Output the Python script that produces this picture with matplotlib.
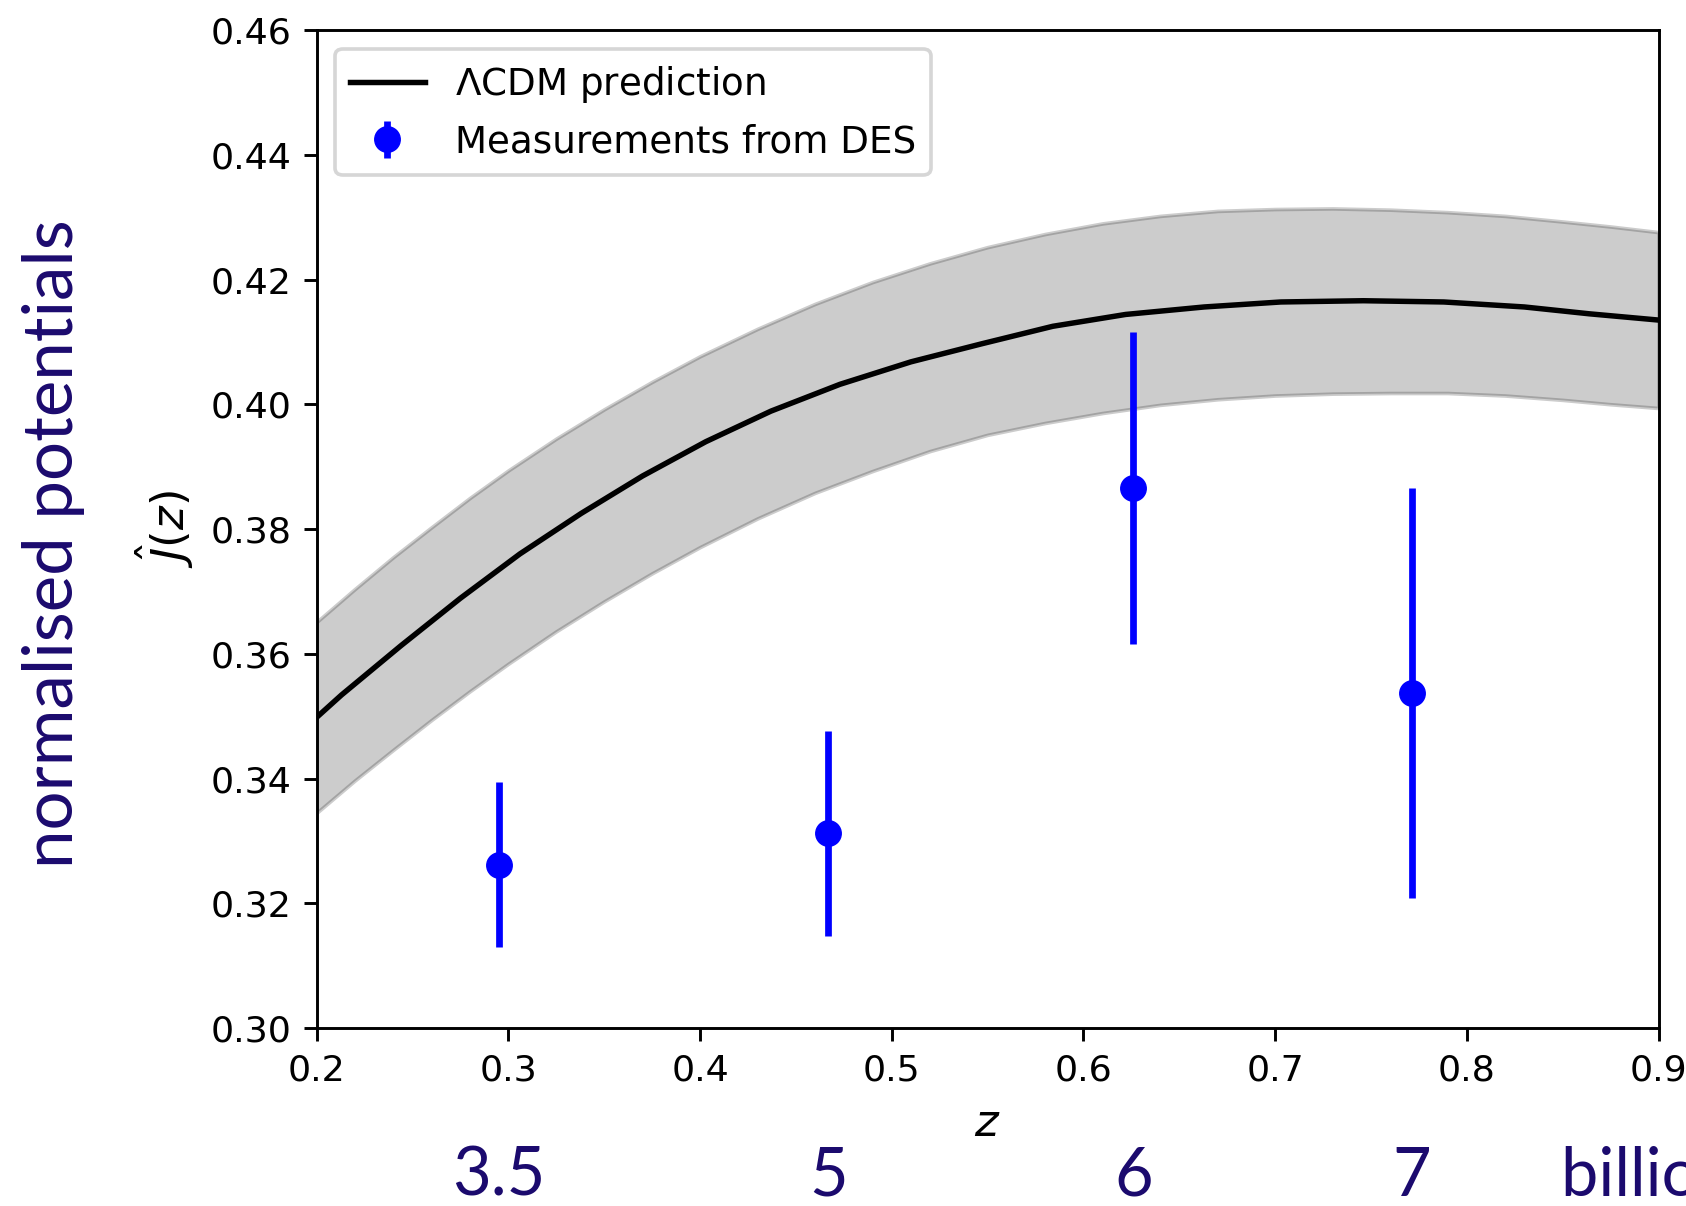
import numpy as np
import matplotlib
matplotlib.use("Agg")
import matplotlib.pyplot as plt
from matplotlib import transforms

# LCDM prediction for J(z) and its band
z_model = [0.200, 0.213, 0.244, 0.275, 0.306, 0.338, 0.370, 0.403, 0.437, 0.473, 0.510,
           0.547, 0.584, 0.622, 0.663, 0.703, 0.746, 0.788, 0.830, 0.864, 0.900]
j_model = [0.3498, 0.3534, 0.3613, 0.3689, 0.3760, 0.3825, 0.3885, 0.3940, 0.3989, 0.4032, 0.4068,
           0.4097, 0.4125, 0.4144, 0.4156, 0.4164, 0.4166, 0.4164, 0.4156, 0.4145, 0.4135]

# band edges (read on a finer grid, they look smooth)
z_band = [0.200, 0.220, 0.240, 0.260, 0.280, 0.300, 0.325, 0.350, 0.375, 0.400, 0.430,
          0.460, 0.490, 0.520, 0.550, 0.580, 0.610, 0.640, 0.670, 0.700, 0.730,
          0.760, 0.790, 0.820, 0.850, 0.875, 0.900]
j_upper = [0.3651, 0.3704, 0.3755, 0.3803, 0.3850, 0.3894, 0.3945, 0.3992, 0.4036, 0.4077, 0.4121,
           0.4161, 0.4196, 0.4226, 0.4252, 0.4273, 0.4290, 0.4302, 0.4310, 0.4313, 0.4314,
           0.4312, 0.4308, 0.4302, 0.4293, 0.4285, 0.4276]
j_lower = [0.3345, 0.3397, 0.3446, 0.3494, 0.3540, 0.3584, 0.3636, 0.3684, 0.3729, 0.3771, 0.3817,
           0.3858, 0.3893, 0.3925, 0.3951, 0.3970, 0.3986, 0.3999, 0.4008, 0.4014, 0.4017,
           0.4018, 0.4018, 0.4014, 0.4007, 0.4000, 0.3994]

# DES measurements
z_des = [0.295, 0.467, 0.626, 0.7715]
j_des = [0.3262, 0.3312, 0.3866, 0.3537]
j_err = [0.0132, 0.0164, 0.0250, 0.0328]

# lookback times (billion years) written under the points
age_labels = ["3.5", "5", "6", "7"]

S = 2.62
navy = "#1b0a6e"
plt.rcParams.update({
    "font.size": 10 * S,
    "axes.linewidth": 0.8 * S,
    "lines.linewidth": 1.5 * S,
    "patch.linewidth": 1.0 * S,
    "xtick.major.size": 3.5 * S,
    "xtick.major.width": 0.8 * S,
    "xtick.major.pad": 3.5 * S,
    "ytick.major.size": 3.5 * S,
    "ytick.major.width": 0.8 * S,
    "ytick.major.pad": 3.5 * S,
    "axes.labelpad": 4.0 * S,
    "axes.labelsize": 12.4 * S,
    "legend.fontsize": 10.25 * S,
})

fig = plt.figure(figsize=(16.86, 12.06), dpi=100)
ax = fig.add_axes([0.1878, 0.1476, 0.7959, 0.8275])

ax.fill_between(z_band, j_lower, j_upper, color="k", alpha=0.2)
ax.plot(z_model, j_model, "k-", label=r"$\Lambda$CDM prediction")
ax.errorbar(z_des, j_des, yerr=j_err, fmt="o", color="b", ms=7 * S,
            elinewidth=1.85 * S, label="Measurements from DES")

ax.set_xlim(0.2, 0.9)
ax.set_ylim(0.30, 0.46)
ax.set_xlabel(r"$z$")
ax.set_ylabel(r"$\hat{J}(z)$")
ax.legend(loc="upper left")

fig.text(0.032, 0.549, "normalised potentials", rotation=90, ha="center", va="center",
         fontsize=49.7, color=navy, family="Lato")

trans = transforms.blended_transform_factory(ax.transData, fig.transFigure)
for z, lab in zip(z_des, age_labels):
    ax.text(z, 0.0083, lab, transform=trans, ha="center", va="baseline",
            fontsize=48, color=navy, family="Lato", clip_on=False)
ax.text(0.849, 0.0083, "billion years ago", transform=trans, ha="left", va="baseline",
        fontsize=48, color=navy, family="Lato", clip_on=False)

fig.savefig("out.png", dpi=100)
plt.close()
